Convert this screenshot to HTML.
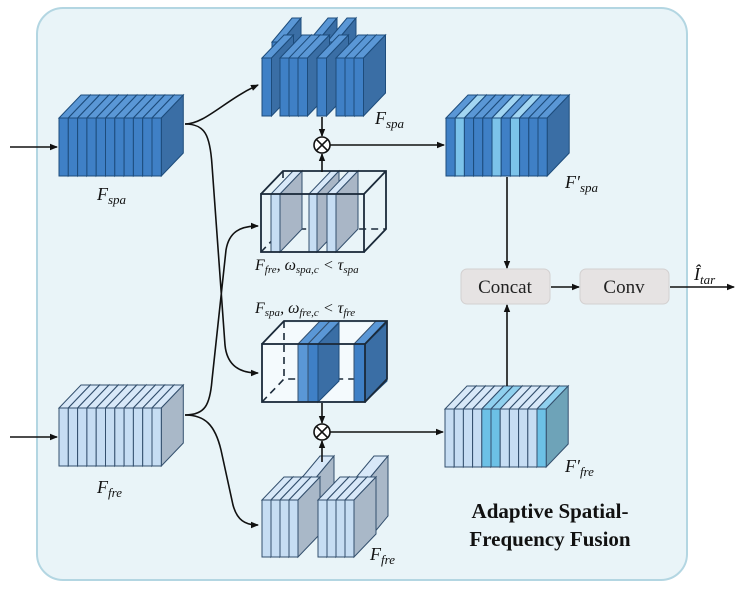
<!DOCTYPE html>
<html><head><meta charset="utf-8"><style>
html,body{margin:0;padding:0;background:#fff;}
svg{display:block;}
text{font-family:"Liberation Serif",serif;}
</style></head><body>
<svg id="s" width="742" height="590" viewBox="0 0 742 590" xmlns="http://www.w3.org/2000/svg">
<defs><marker id="a" markerWidth="8" markerHeight="8" refX="7" refY="4" orient="auto" markerUnits="userSpaceOnUse"><path d="M0,0.8 L8,4 L0,7.2 z" fill="#111"/></marker></defs>
<rect x="37" y="8" width="650" height="572" rx="26" fill="#e9f4f8" stroke="#b3d6e2" stroke-width="2"/>
<g id="g"></g>
<g fill="none" stroke="#111" stroke-width="1.6">
<line x1="10" y1="147" x2="57" y2="147" marker-end="url(#a)"/>
<line x1="10" y1="437" x2="57" y2="437" marker-end="url(#a)"/>
<path d="M185,124 C205,124 225,100 258,85" marker-end="url(#a)"/>
<path d="M185,124 C205,124 210,135 212,165 L225,345 C227,366 240,373 258,373" marker-end="url(#a)"/>
<path d="M185,415 C205,415 210,405 212,380 L226,250 C229,232 240,226 258,226" marker-end="url(#a)"/>
<path d="M185,415 C205,415 215,425 221,450 L233,505 C237,520 245,525 258,525" marker-end="url(#a)"/>
<line x1="322" y1="117" x2="322" y2="136" marker-end="url(#a)"/>
<line x1="322" y1="172" x2="322" y2="154" marker-end="url(#a)"/>
<line x1="330" y1="145" x2="444" y2="145" marker-end="url(#a)"/>
<line x1="322" y1="403" x2="322" y2="423" marker-end="url(#a)"/>
<line x1="322" y1="462" x2="322" y2="441" marker-end="url(#a)"/>
<line x1="330" y1="432" x2="443" y2="432" marker-end="url(#a)"/>
<line x1="507" y1="177" x2="507" y2="268" marker-end="url(#a)"/>
<line x1="507" y1="386" x2="507" y2="305" marker-end="url(#a)"/>
<line x1="551" y1="287" x2="579" y2="287" marker-end="url(#a)"/>
<line x1="670" y1="287" x2="734" y2="287" marker-end="url(#a)"/>
</g>
<g fill="#fff" stroke="#111" stroke-width="1.6">
<circle cx="322" cy="145" r="8"/><path d="M316.3,139.3 L327.7,150.7 M327.7,139.3 L316.3,150.7"/>
<circle cx="322" cy="432" r="8"/><path d="M316.3,426.3 L327.7,437.7 M327.7,426.3 L316.3,437.7"/>
</g>
<rect x="461" y="269" width="89" height="35" rx="6" fill="#e6e3e3" stroke="#d3d0d0"/>
<rect x="580" y="269" width="89" height="35" rx="6" fill="#e6e3e3" stroke="#d3d0d0"/>
<g font-size="19" fill="#222" text-anchor="middle">
<text x="505" y="293">Concat</text><text x="624" y="293">Conv</text>
</g>
<g font-style="italic" font-size="18" fill="#111">
<text x="97" y="200">F<tspan font-size="13" dy="4">spa</tspan></text>
<text x="97" y="493">F<tspan font-size="13" dy="4">fre</tspan></text>
<text x="375" y="124">F<tspan font-size="13" dy="4">spa</tspan></text>
<text x="370" y="560">F<tspan font-size="13" dy="4">fre</tspan></text>
<text x="565" y="188">F′<tspan font-size="13" dy="4">spa</tspan></text>
<text x="565" y="472">F′<tspan font-size="13" dy="4">fre</tspan></text>
<text x="694" y="280">Î<tspan font-size="13" dy="4">tar</tspan></text>
<text x="255" y="270" font-size="16">F<tspan font-size="11" dy="3">fre</tspan><tspan dy="-3">, ω</tspan><tspan font-size="11" dy="3">spa,c</tspan><tspan dy="-3"> &lt; τ</tspan><tspan font-size="11" dy="3">spa</tspan></text>
<text x="255" y="313" font-size="16">F<tspan font-size="11" dy="3">spa</tspan><tspan dy="-3">, ω</tspan><tspan font-size="11" dy="3">fre,c</tspan><tspan dy="-3"> &lt; τ</tspan><tspan font-size="11" dy="3">fre</tspan></text>
</g>
<g font-weight="bold" font-size="21" fill="#111" text-anchor="middle">
<text x="550" y="518">Adaptive Spatial-</text><text x="550" y="546">Frequency Fusion</text>
</g>
</svg>
<script>
var g=document.getElementById('g'),h='';
var DX=22,DY=23;
function sl(x,y,w,ht,f,t,s,st,dx,dy){dx=dx||DX;dy=dy||DY;
h+='<path d="M'+x+','+y+' l'+dx+','+(-dy)+' h'+w+' l'+(-dx)+','+dy+' z" fill="'+t+'" stroke="'+st+'" stroke-width="1"/>';
h+='<path d="M'+(x+w)+','+y+' l'+dx+','+(-dy)+' v'+ht+' l'+(-dx)+','+dy+' z" fill="'+s+'" stroke="'+st+'" stroke-width="1"/>';
h+='<rect x="'+x+'" y="'+y+'" width="'+w+'" height="'+ht+'" fill="'+f+'" stroke="'+st+'" stroke-width="1"/>';}
var D=['#3f80c6','#5a97d6','#3a6ea5','#1d4c7c'],L=['#c6ddf3','#d8e8f8','#a9b8c8','#34506e'];
function block(x,y,n,w,ht,cols){for(var i=0;i<n;i++){var c=cols(i);sl(x+i*w,y,w,ht,c[0],c[1],c[2],c[3]);}}
block(59,118,11,9.3,58,function(){return D;});
block(59,408,11,9.3,58,function(){return L;});
var lb=['#7cc3ea','#a3d6f2','#3a6ea5','#1d4c7c'];
block(446,118,11,9.2,58,function(i){return (i==1||i==5||i==7)?lb:D;});
var lc=['#6cc1e6','#8fd0ee','#6ea3b8','#34506e'];
block(445,409,11,9.2,58,function(i){return (i==4||i==5||i==10)?lc:[L[0],L[1],'#6ea3b8',L[3]];});
// top middle masked spa
[272,308,327].forEach(function(x){sl(x,42,9,56,D[0],D[1],D[2],D[3],20,24);});
[262,280,289,298,317,336,345,354].forEach(function(x){sl(x,58,9.5,58,D[0],D[1],D[2],D[3]);});
// bottom middle masked fre
[300,354].forEach(function(x){sl(x,480,14,60,L[0],L[1],L[2],L[3],20,24);});
[262,271,280,289,318,327,336,345].forEach(function(x){sl(x,500,9,57,L[0],L[1],L[2],L[3]);});
// wire box 1
function wire(x,y,w,ht){var s='#1b2a3a';
h+='<path d="M'+x+','+(y+ht)+' l'+DX+','+(-DY)+' h'+w+' M'+(x+DX)+','+(y-DY)+' v'+ht+'" fill="none" stroke="'+s+'" stroke-width="1.6" stroke-dasharray="7,5"/>';}
function wireF(x,y,w,ht){var s='#1b2a3a';
h+='<path d="M'+x+','+y+' l'+DX+','+(-DY)+' h'+w+' v'+ht+' l'+(-DX)+','+DY+' M'+(x+w)+','+y+' l'+DX+','+(-DY)+'" fill="none" stroke="'+s+'" stroke-width="1.8"/>';
h+='<rect x="'+x+'" y="'+y+'" width="'+w+'" height="'+ht+'" fill="none" stroke="'+s+'" stroke-width="1.8"/>';}
wire(261,194,103,58);
function plane(x,y,w,ht,f,t){h+='<rect x="'+x+'" y="'+y+'" width="'+w+'" height="'+ht+'" fill="'+f+'" stroke="#34506e" stroke-width="1"/>';
h+='<path d="M'+x+','+y+' l'+DX+','+(-DY)+' h'+w+' l'+(-DX)+','+DY+' z" fill="'+t+'" stroke="#34506e" stroke-width="1"/>';}
function gp(x,y,ht,c){h+='<path d="M'+x+','+y+' l'+DX+','+(-DY)+' v'+ht+' l'+(-DX)+','+DY+' z" fill="'+c+'" stroke="#34506e" stroke-width="1"/>';}
[[271,9],[309,8],[327,9]].forEach(function(p){plane(p[0],194,p[1],58,L[0],L[1]);gp(p[0]+p[1],194,58,'#a9b6c6');});
wireF(261,194,103,58);
// wire box 2
h+='<rect x="262" y="344" width="103" height="58" fill="#f4fafd" stroke="none"/>';
h+='<path d="M262,344 l22,-21 h103 l-22,21 z" fill="#f4fafd"/>';
wire(262,344,103,58);
plane(298,344,10,58,D[1],D[1]);plane(308,344,10,58,D[0],D[1]);
h+='<path d="M318,344 l21,-21 v58 l-21,21 z" fill="#3a6ea5" stroke="#1d4c7c"/>';
plane(354,344,11,58,D[0],D[1]);
h+='<path d="M365,344 l22,-21 v58 l-22,21 z" fill="#3a6ea5" stroke="#1d4c7c"/>';
wireF(262,344,103,58);
g.innerHTML=h;
</script>
</body></html>
